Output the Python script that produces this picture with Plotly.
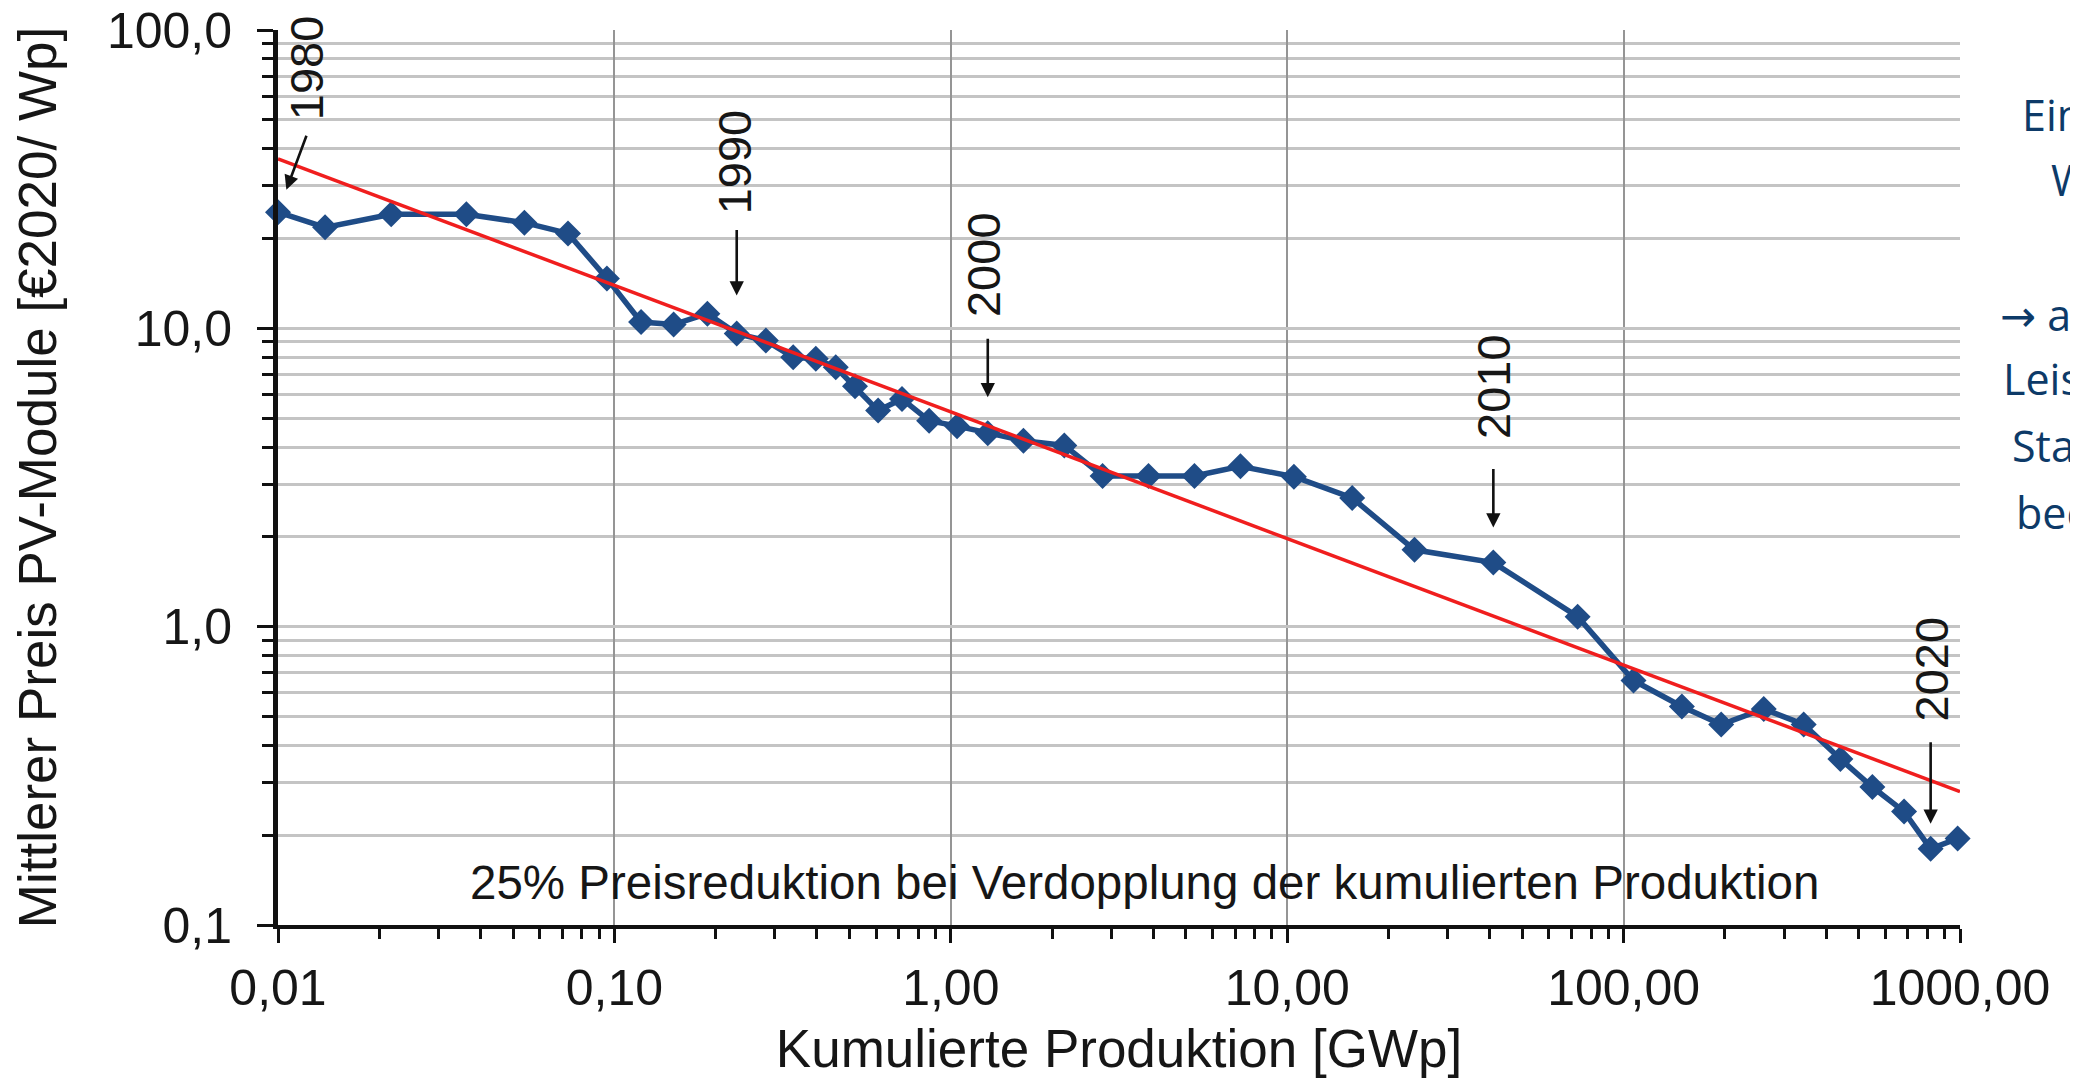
import plotly.graph_objects as go
import math

# ---- data ----
cum_production_gwp = [0.0100, 0.0138, 0.0217, 0.0363, 0.0540, 0.0728, 0.095, 0.120, 0.150, 0.189,
                      0.231, 0.282, 0.340, 0.397, 0.455, 0.519, 0.608, 0.716, 0.862, 1.044,
                      1.288, 1.644, 2.175, 2.826, 3.87, 5.30, 7.26, 10.47, 15.6, 23.9,
                      41.0, 73.0, 107, 149, 195, 261, 343, 441, 549, 682,
                      818, 984]
module_price = [24.5, 21.8, 24.1, 24.1, 22.6, 20.8, 14.7, 10.5, 10.3, 11.2,
                9.6, 9.1, 8.0, 7.9, 7.4, 6.4, 5.3, 5.8, 4.9, 4.7,
                4.45, 4.2, 4.05, 3.2, 3.2, 3.2, 3.45, 3.18, 2.7, 1.81,
                1.64, 1.08, 0.66, 0.54, 0.47, 0.53, 0.47, 0.36, 0.29, 0.24,
                0.18, 0.195]

trend_x = [0.01, 1000]
trend_y = [37.0, 0.28]

year_labels = ["1980", "1990", "2000", "2010", "2020"]
year_point_index = [0, 10, 20, 30, 40]

x_tickvals = [0.01, 0.1, 1, 10, 100, 1000]
x_ticktext = ["0,01", "0,10", "1,00", "10,00", "100,00", "1000,00"]
y_tickvals = [0.1, 1, 10, 100]
y_ticktext = ["0,1", "1,0", "10,0", "100,0"]

side_text = ["Ein", "W", '<span style="font-family:DejaVu Sans">→</span> ab', "Leis", "Star", "bec"]

# ---- styling ----
FONT = "Liberation Sans, Arial, sans-serif"
BLUE = "#1f4c87"
RED = "#f01e1e"
GRID = "#c4c4c4"
VGRID = "#959595"
TXT = "#161616"

minor_vals = [m * 10 ** e for e in range(-2, 3) for m in range(2, 10)]

fig = go.Figure()
fig.add_trace(go.Scatter(
    x=cum_production_gwp, y=module_price, mode="lines+markers",
    line=dict(color=BLUE, width=5.5),
    marker=dict(symbol="diamond", size=20, color=BLUE),
    showlegend=False, cliponaxis=False,
))
fig.add_trace(go.Scatter(
    x=trend_x, y=trend_y, mode="lines",
    line=dict(color=RED, width=3.5),
    showlegend=False,
))

# arrow geometry (pixel offsets relative to the marked data point)
arrow_dx = [29, 0, 0, 0, 0]
arrow_dy = [-78, -105, -96, -95, -108]
arrow_standoff = [24, 38, 36, 35, 25]
label_xshift = [28, -2, -5, 0, 1]
label_yshift = [144, 172, 169, 176, 180]

annotations = []
for lab, idx, dx, dy, so, xs, ys in zip(year_labels, year_point_index, arrow_dx, arrow_dy,
                                         arrow_standoff, label_xshift, label_yshift):
    px = math.log10(cum_production_gwp[idx])
    py = math.log10(module_price[idx])
    annotations.append(dict(
        x=px, y=py, xref="x", yref="y", text="", showarrow=True,
        ax=dx, ay=dy, standoff=so, arrowhead=2, arrowsize=1.1, arrowwidth=2.6,
        arrowcolor="#111111",
    ))
    annotations.append(dict(
        x=px, y=py, xref="x", yref="y", text=lab, showarrow=False,
        textangle=-90, xshift=xs, yshift=ys,
        font=dict(family=FONT, size=47, color=TXT),
    ))

annotations.append(dict(
    x=0.515, y=0.048, xref="paper", yref="paper",
    text="25% Preisreduktion bei Verdopplung der kumulierten Produktion",
    showarrow=False, xanchor="center", yanchor="middle",
    font=dict(family=FONT, size=47.5, color=TXT),
))

# page is offset by the 8px body margin
OFF = 8
W, H = 2070, 1070
L, T = 278 - OFF, 30 - OFF
R = W - (1960 - OFF)
B = H - (925 - OFF)
pw, ph = W - L - R, H - T - B

# cropped explanatory text on the right edge (page pixel positions)
side_x = [2020, 2049, 1998, 2001, 2010, 2014]
side_y = [115, 180, 314, 378, 445, 512]
for t, sx, sy in zip(side_text, side_x, side_y):
    annotations.append(dict(
        x=(sx - OFF - L) / pw, y=1 - (sy - OFF - T) / ph, xref="paper", yref="paper",
        text=t, showarrow=False, xanchor="left", yanchor="middle",
        font=dict(family="Open Sans, Noto Sans, sans-serif", size=43, color="#0d3a68"),
    ))

fig.update_layout(
    width=W, height=H,
    margin=dict(l=L, r=R, t=T, b=B, pad=0),
    paper_bgcolor="white", plot_bgcolor="white",
    annotations=annotations,
    font=dict(family=FONT, color=TXT),
)

fig.update_xaxes(
    type="log", range=[-2, 3],
    tickmode="array", tickvals=x_tickvals, ticktext=x_ticktext,
    tickfont=dict(family=FONT, size=50, color=TXT),
    ticks="outside", ticklen=14, tickwidth=3, tickcolor="#111",
    ticklabelstandoff=2, ticklabeloverflow="allow",
    showgrid=True, gridcolor=VGRID, gridwidth=1.6,
    showline=True, linecolor="#111", linewidth=4,
    zeroline=False,
    minor=dict(tickmode="array", tickvals=minor_vals, ticks="outside", ticklen=10,
               tickwidth=3, tickcolor="#111", showgrid=False),
    title=dict(text="Kumulierte Produktion [GWp]", font=dict(family=FONT, size=53, color=TXT),
               standoff=35),
    automargin=False,
)
fig.update_yaxes(
    type="log", range=[-1, 2],
    tickmode="array", tickvals=y_tickvals, ticktext=y_ticktext,
    tickfont=dict(family=FONT, size=50, color=TXT),
    ticks="outside", ticklen=16, tickwidth=3, tickcolor="#111",
    ticklabelstandoff=15, ticklabeloverflow="allow",
    showgrid=True, gridcolor=GRID, gridwidth=2.5,
    showline=True, linecolor="#111", linewidth=5,
    zeroline=False,
    minor=dict(tickmode="array", tickvals=minor_vals, ticks="outside", ticklen=11,
               tickwidth=3, tickcolor="#111", showgrid=True, gridcolor=GRID, gridwidth=2.5),
    title=dict(text="Mittlerer Preis PV-Module [€2020/ Wp]",
               font=dict(family=FONT, size=53, color=TXT), standoff=45),
    automargin=False,
)

fig.write_html("out.html")
